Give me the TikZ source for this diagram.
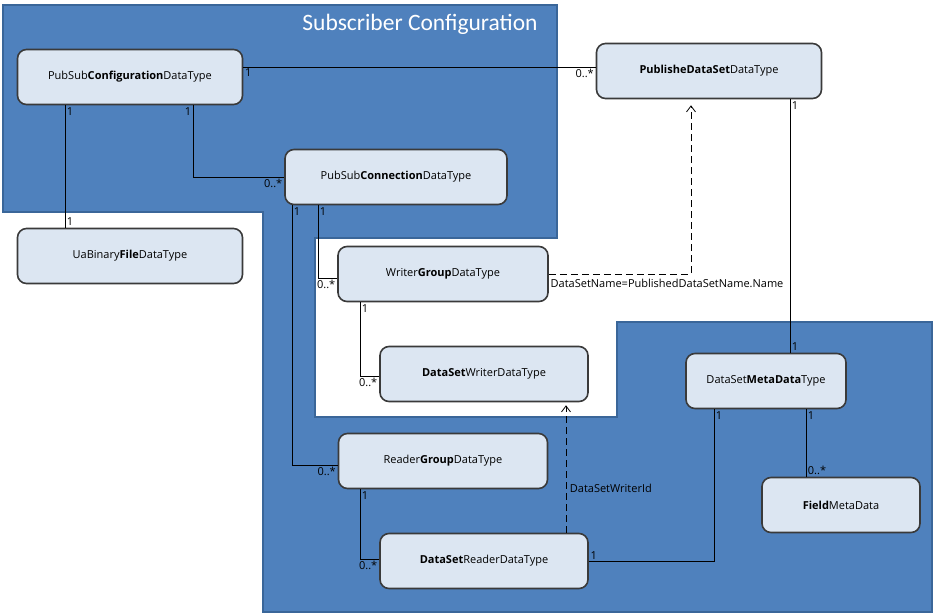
\documentclass[tikz,border=0pt]{standalone}
\usepackage{fontspec}
\setmainfont{Open Sans}
\newfontfamily\titlefont{Carlito}
\usetikzlibrary{arrows.meta}
\definecolor{regionblue}{HTML}{4F81BD}
\definecolor{regionedge}{HTML}{3A6699}
\definecolor{boxfill}{HTML}{DCE6F2}
\definecolor{boxline}{HTML}{3A3A3A}
\tikzset{
  dtype/.style={draw=boxline, fill=boxfill, line width=1.6pt, rounded corners=9pt,
    minimum height=55pt, font=\fontsize{11}{13}\selectfont},
  mult/.style={font=\fontsize{11}{13}\selectfont, inner sep=1.5pt},
  assoc/.style={line width=0.8pt},
  dep/.style={line width=0.8pt, dash pattern=on 7pt off 4pt,
    -{Straight Barb[length=6pt,width=9pt,line width=0.8pt]}}
}

\begin{document}
\begin{tikzpicture}[x=1pt,y=-1pt]
  \useasboundingbox (0,0) rectangle (935,614);
  % subscriber area
  \filldraw[fill=regionblue, draw=regionedge, line width=2.5pt]
    (3,5) -- (557,5) -- (557,238) -- (315,238) -- (315,417) -- (617,417)
    -- (617,322) -- (932,322) -- (932,612) -- (263,612) -- (263,212)
    -- (3,212) -- cycle;
  \node[white, font=\titlefont\fontsize{23.5}{26}\selectfont] (title) at (420,24) {Subscriber Configuration};

  \node[dtype, minimum width=225pt] (cfg) at (130,77) {PubSub\textbf{Configuration}DataType};
  \node[dtype, minimum width=225pt] (pub) at (709,71) {\textbf{PublisheDataSet}DataType};
  \node[dtype, minimum width=222pt] (con) at (396,177) {PubSub\textbf{Connection}DataType};
  \node[dtype, minimum width=225pt] (uab) at (130,256) {UaBinary\textbf{File}DataType};
  \node[dtype, minimum width=210pt] (wg) at (443,274) {Writer\textbf{Group}DataType};
  \node[dtype, minimum width=208pt] (dsw) at (484,374) {\textbf{DataSet}WriterDataType};
  \node[dtype, minimum width=160pt] (dsm) at (766,381) {DataSet\textbf{MetaData}Type};
  \node[dtype, minimum width=209pt] (rg) at (443,461) {Reader\textbf{Group}DataType};
  \node[dtype, minimum width=158pt] (fmd) at (841,505) {\textbf{Field}MetaData};
  \node[dtype, minimum width=208pt] (dsr) at (484,561) {\textbf{DataSet}ReaderDataType};

  % associations
  \draw[assoc] ([yshift=10pt]cfg.east) -- ([yshift=4pt]pub.west)
    node[mult, pos=0, anchor=north west] {1}
    node[mult, pos=1, anchor=north east] {0..*};
  \draw[assoc] ([xshift=-65pt]cfg.south) -- ([xshift=-65pt]uab.north)
    node[mult, pos=0, anchor=north west] {1}
    node[mult, pos=1, anchor=south west] {1};
  \draw[assoc] ([xshift=63pt]cfg.south) |- (con.west)
    node[mult, pos=0, anchor=north east] {1}
    node[mult, pos=1, anchor=north east] {0..*};
  \draw[assoc] ([xshift=-104pt]con.south) |- ([yshift=-4pt]rg.west)
    node[mult, pos=0, anchor=north west] {1}
    node[mult, pos=1, anchor=north east] {0..*};
  \draw[assoc] ([xshift=-78pt]con.south) |- ([yshift=-4pt]wg.west)
    node[mult, pos=0, anchor=north west] {1}
    node[mult, pos=1, anchor=north east] {0..*};
  \draw[assoc] ([xshift=-83pt]wg.south) |- ([yshift=-2pt]dsw.west)
    node[mult, pos=0, anchor=north west] {1}
    node[mult, pos=1, anchor=north east] {0..*};
  \draw[assoc] ([xshift=-83pt]rg.south) |- ([yshift=2pt]dsr.west)
    node[mult, pos=0, anchor=north west] {1}
    node[mult, pos=1, anchor=north east] {0..*};
  \draw[assoc] ([xshift=81pt]pub.south) -- ([xshift=24pt]dsm.north)
    node[mult, pos=0, anchor=north west] {1}
    node[mult, pos=1, anchor=south west] {1};
  \draw[assoc] (dsr.east) -| ([xshift=-52pt]dsm.south)
    node[mult, pos=0, anchor=south west] {1}
    node[mult, pos=1, anchor=north west] {1};
  \draw[assoc] ([xshift=40pt]dsm.south) -- ([xshift=-35pt]fmd.north)
    node[mult, pos=0, anchor=north west] {1}
    node[mult, pos=1, anchor=south west] {0..*};

  % dependencies
  \draw[dep] (wg.east) -| ([xshift=-18pt,yshift=-6pt]pub.south)
    node[mult, pos=0, anchor=north west, yshift=-3pt] {DataSetName=PublishedDataSetName.Name};
  \draw[dep] ([xshift=82pt]dsr.north) -- ([xshift=82pt,yshift=-3pt]dsw.south)
    node[mult, pos=0.35, anchor=west, xshift=2pt] {DataSetWriterId};
\end{tikzpicture}
\end{document}
